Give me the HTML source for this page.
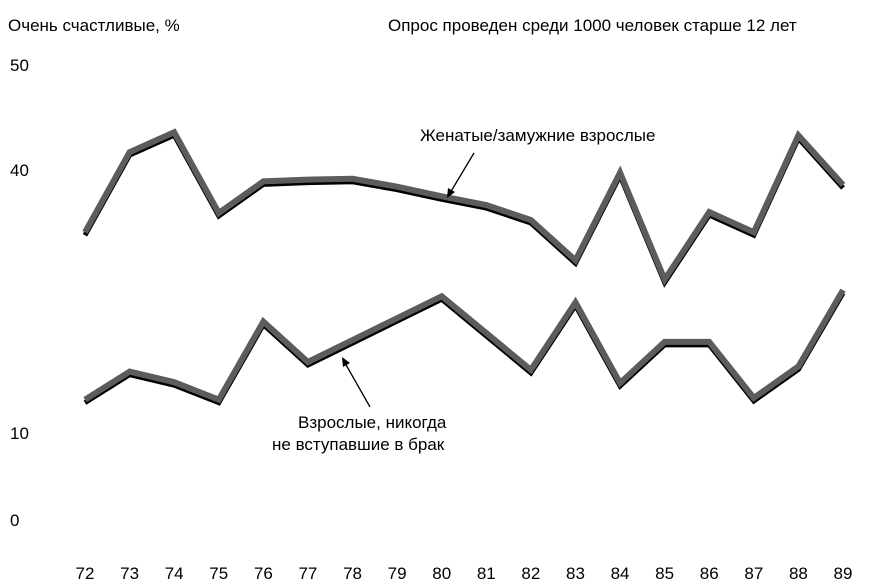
<!DOCTYPE html>
<html><head><meta charset="utf-8"><style>
body{margin:0;background:#fff;}
svg{display:block;font-family:"Liberation Sans","Noto Sans CJK SC",sans-serif;}
</style></head><body>
<svg id="chart" width="887" height="584">
<text x="8" y="31" font-size="17">Очень счастливые, %</text>
<text x="388" y="31" font-size="17">Опрос проведен среди 1000 человек старше 12 лет</text>
<g id="yticks"></g><g id="xticks"></g><g id="series"></g>
<text x="420" y="141" font-size="17">Женатые/замужние взрослые</text>
<line x1="474" y1="153" x2="450" y2="193" stroke="#000" stroke-width="1.3"/>
<polygon points="447,198 448,188 455,192" fill="#000"/>
<text x="298" y="428" font-size="17">Взрослые, никогда</text>
<text x="272" y="450" font-size="17">не вступавшие в брак</text>
<line x1="370" y1="407" x2="345" y2="363" stroke="#000" stroke-width="1.3"/>
<polygon points="342,357 350,363 343,367" fill="#000"/>
</svg>
<script>
const years=["72","73","74","75","76","77","78","79","80","81","82","83","84","85","86","87","88","89"];
const married=[32.9,41.7,43.6,35.1,38.7,38.9,39.0,38.1,37.0,36.0,34.3,29.7,39.7,27.5,35.2,32.9,43.3,38.3];
const neverMarried=[13.8,17.0,15.8,13.8,22.7,18.1,20.6,23.1,25.6,21.4,17.2,24.9,15.7,20.4,20.4,14.0,17.6,26.3];
const yTickValues=[0,10,40,50];
const yTickPixels=[520,433,170,65];
const NS="http://www.w3.org/2000/svg";
function x(i){return 85+i*(843-85)/(years.length-1);}
function y(v){
  for(let k=0;k<yTickValues.length-1;k++){
    const a=yTickValues[k],b=yTickValues[k+1];
    if(v<=b||k===yTickValues.length-2){
      return yTickPixels[k]+(v-a)/(b-a)*(yTickPixels[k+1]-yTickPixels[k]);
    }
  }
}
const yt=document.getElementById('yticks');
yTickValues.forEach(v=>{
  const t=document.createElementNS(NS,'text');
  t.setAttribute('x',10);t.setAttribute('y',y(v)+6);t.setAttribute('font-size','17');
  t.textContent=v;
  
  
  yt.appendChild(t);
});
const xt=document.getElementById('xticks');
years.forEach((yr,i)=>{
  const t=document.createElementNS(NS,'text');
  t.setAttribute('x',x(i));t.setAttribute('y',579);t.setAttribute('font-size','17');t.setAttribute('text-anchor','middle');
  t.textContent=yr;
  
  
  xt.appendChild(t);
});
const sg=document.getElementById('series');
function draw(vals,name){
  const pts=vals.map((v,i)=>x(i)+','+y(v)).join(' ');
  const sh=document.createElementNS(NS,'polyline');
  sh.setAttribute('points',pts);sh.setAttribute('fill','none');sh.setAttribute('stroke','#000');
  sh.setAttribute('stroke-width','5');sh.setAttribute('transform','translate(0,3)');
  
  
  sg.appendChild(sh);
  const l=document.createElementNS(NS,'polyline');
  l.setAttribute('points',pts);l.setAttribute('fill','none');l.setAttribute('stroke','#5c5c5c');
  l.setAttribute('stroke-width','6');
  
  
  sg.appendChild(l);
}
draw(married,'married');
draw(neverMarried,'never-married');
</script>
</body></html>
